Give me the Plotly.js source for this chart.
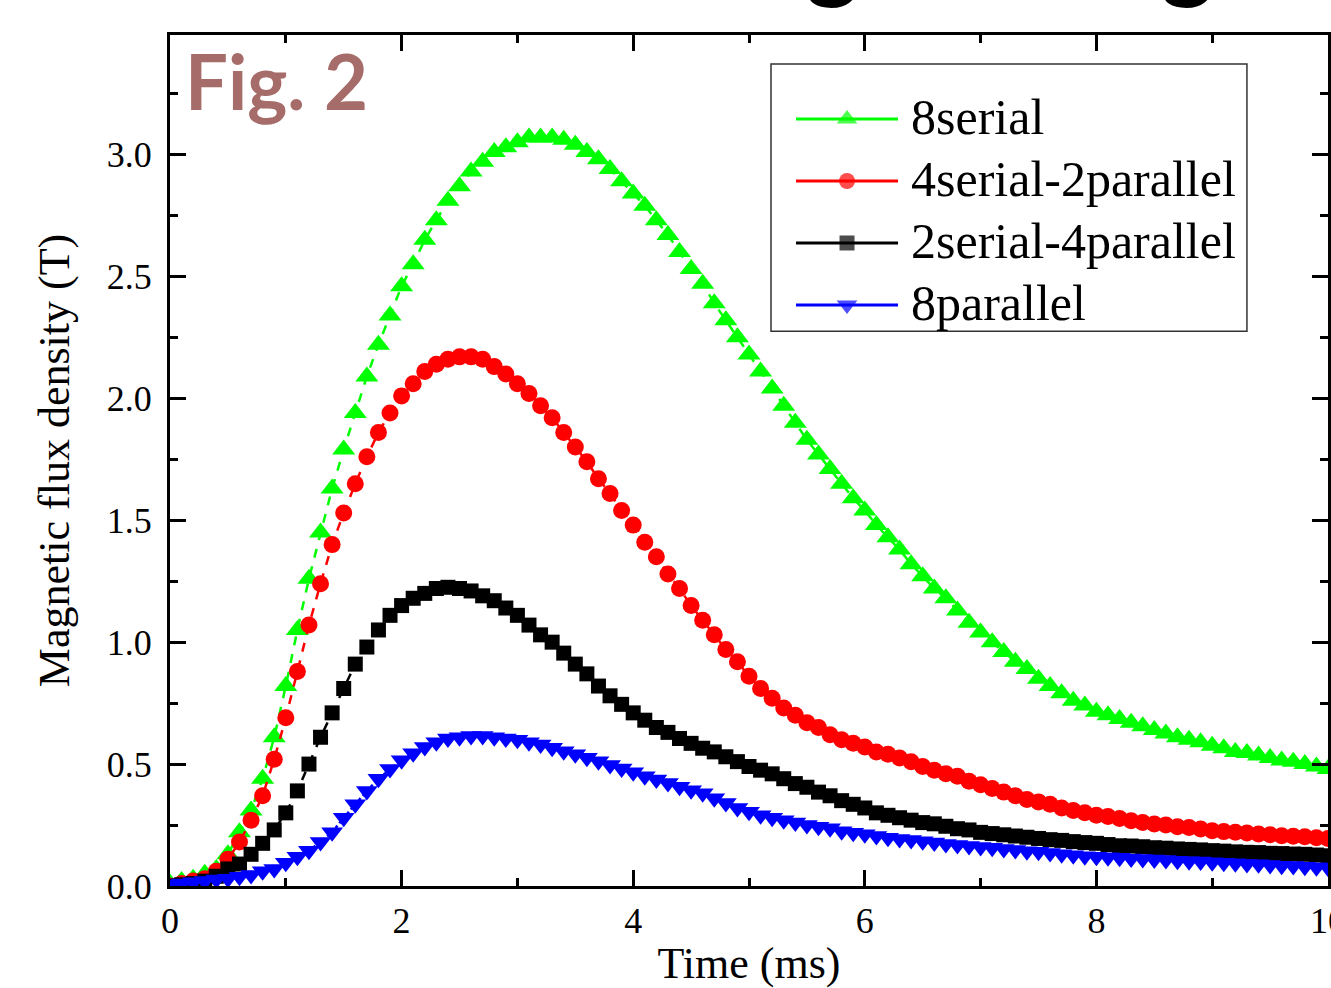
<!DOCTYPE html>
<html>
<head>
<meta charset="utf-8">
<script src="https://cdn.plot.ly/plotly-3.0.1.min.js"></script>
<style>
  html, body { margin: 0; padding: 0; background: #ffffff; }
  #chart { width: 1331px; height: 988px; }
</style>
</head>
<body>
<div id="chart"></div>
<script>
// Time axis (ms)
const time = [
  0.0, 0.1, 0.2, 0.3, 0.4, 0.5, 0.6, 0.7, 0.8, 0.9,
  1.0, 1.1, 1.2, 1.3, 1.4, 1.5, 1.6, 1.7, 1.8, 1.9,
  2.0, 2.1, 2.2, 2.3, 2.4, 2.5, 2.6, 2.7, 2.8, 2.9,
  3.0, 3.1, 3.2, 3.3, 3.4, 3.5, 3.6, 3.7, 3.8, 3.9,
  4.0, 4.1, 4.2, 4.3, 4.4, 4.5, 4.6, 4.7, 4.8, 4.9,
  5.0, 5.1, 5.2, 5.3, 5.4, 5.5, 5.6, 5.7, 5.8, 5.9,
  6.0, 6.1, 6.2, 6.3, 6.4, 6.5, 6.6, 6.7, 6.8, 6.9,
  7.0, 7.1, 7.2, 7.3, 7.4, 7.5, 7.6, 7.7, 7.8, 7.9,
  8.0, 8.1, 8.2, 8.3, 8.4, 8.5, 8.6, 8.7, 8.8, 8.9,
  9.0, 9.1, 9.2, 9.3, 9.4, 9.5, 9.6, 9.7, 9.8, 9.9,
  10.0
];

// Magnetic flux density (T) for each coil connection
const serial8 = [
  0.01, 0.02, 0.03, 0.05, 0.07, 0.13, 0.22, 0.31, 0.44, 0.61,
  0.82, 1.05, 1.26, 1.45, 1.63, 1.79, 1.94, 2.09, 2.22, 2.34,
  2.46, 2.55, 2.65, 2.73, 2.81, 2.87, 2.93, 2.97, 3.01, 3.03,
  3.05, 3.07, 3.07, 3.07, 3.06, 3.04, 3.01, 2.98, 2.94, 2.89,
  2.84, 2.79, 2.73, 2.67, 2.60, 2.53, 2.47, 2.39, 2.32, 2.25,
  2.18, 2.11, 2.04, 1.97, 1.90, 1.83, 1.77, 1.71, 1.65, 1.59,
  1.54, 1.48, 1.43, 1.38, 1.32, 1.27, 1.22, 1.18, 1.13, 1.08,
  1.04, 1.00, 0.96, 0.92, 0.89, 0.85, 0.82, 0.79, 0.76, 0.74,
  0.715, 0.70, 0.685, 0.67, 0.655, 0.64, 0.625, 0.61, 0.60, 0.59,
  0.575, 0.565, 0.55, 0.545, 0.535, 0.525, 0.515, 0.51, 0.50, 0.49,
  0.48
];
const serial4parallel2 = [
  0.00, 0.01, 0.02, 0.03, 0.06, 0.11, 0.18, 0.27, 0.37, 0.52,
  0.69, 0.88, 1.07, 1.24, 1.40, 1.53, 1.65, 1.76, 1.86, 1.94,
  2.01, 2.06, 2.11, 2.14, 2.16, 2.17, 2.17, 2.16, 2.13, 2.10,
  2.06, 2.02, 1.97, 1.92, 1.86, 1.80, 1.74, 1.67, 1.61, 1.54,
  1.48, 1.41, 1.35, 1.28, 1.22, 1.15, 1.09, 1.03, 0.97, 0.92,
  0.86, 0.81, 0.77, 0.73, 0.70, 0.67, 0.65, 0.62, 0.60, 0.585,
  0.57, 0.55, 0.54, 0.525, 0.51, 0.49, 0.475, 0.46, 0.45, 0.43,
  0.415, 0.40, 0.385, 0.37, 0.355, 0.345, 0.335, 0.32, 0.31, 0.30,
  0.29, 0.285, 0.277, 0.268, 0.26, 0.254, 0.25, 0.243, 0.24, 0.234,
  0.227, 0.223, 0.22, 0.217, 0.213, 0.21, 0.206, 0.204, 0.202, 0.198,
  0.195
];
const serial2parallel4 = [
  0.00, 0.005, 0.01, 0.02, 0.04, 0.07, 0.09, 0.13, 0.175, 0.23,
  0.30, 0.39, 0.50, 0.61, 0.71, 0.81, 0.91, 0.98, 1.05, 1.11,
  1.15, 1.18, 1.20, 1.22, 1.225, 1.22, 1.21, 1.19, 1.17, 1.14,
  1.11, 1.07, 1.03, 1.00, 0.955, 0.91, 0.87, 0.82, 0.78, 0.745,
  0.71, 0.68, 0.65, 0.63, 0.605, 0.585, 0.565, 0.55, 0.53, 0.51,
  0.49, 0.475, 0.46, 0.44, 0.42, 0.405, 0.385, 0.37, 0.35, 0.335,
  0.32, 0.30, 0.29, 0.28, 0.27, 0.26, 0.255, 0.245, 0.235, 0.23,
  0.22, 0.215, 0.21, 0.205, 0.20, 0.195, 0.19, 0.187, 0.182, 0.178,
  0.175, 0.17, 0.165, 0.164, 0.161, 0.157, 0.155, 0.152, 0.15, 0.148,
  0.145, 0.143, 0.14, 0.138, 0.137, 0.134, 0.133, 0.131, 0.13, 0.127,
  0.124
];
const parallel8 = [
  0.005, 0.01, 0.015, 0.02, 0.027, 0.03, 0.038, 0.045, 0.06, 0.07,
  0.095, 0.12, 0.145, 0.18, 0.22, 0.28, 0.335, 0.39, 0.44, 0.48,
  0.516, 0.544, 0.57, 0.59, 0.605, 0.61, 0.615, 0.615, 0.61, 0.605,
  0.60, 0.59, 0.58, 0.567, 0.553, 0.54, 0.526, 0.512, 0.496, 0.482,
  0.466, 0.45, 0.437, 0.422, 0.407, 0.393, 0.38, 0.36, 0.34, 0.32,
  0.305, 0.29, 0.28, 0.27, 0.26, 0.25, 0.243, 0.237, 0.225, 0.218,
  0.212, 0.205, 0.198, 0.193, 0.189, 0.184, 0.178, 0.172, 0.168, 0.164,
  0.16, 0.157, 0.152, 0.148, 0.143, 0.14, 0.135, 0.13, 0.126, 0.122,
  0.12, 0.118, 0.116, 0.113, 0.111, 0.109, 0.107, 0.104, 0.102, 0.10,
  0.097, 0.095, 0.093, 0.09, 0.089, 0.086, 0.083, 0.082, 0.079, 0.077,
  0.075
];

const seriesNames = ['8serial', '4serial-2parallel', '2serial-4parallel', '8parallel'];
const seriesValues = [serial8, serial4parallel2, serial2parallel4, parallel8];
const seriesColors = ['#00ff00', '#ff0000', '#000000', '#0000ff'];
const seriesSymbols = ['triangle-up', 'circle', 'square', 'triangle-down'];
const markerSizes = [20, 17, 15, 19];
const keyMarkerSizes = [18, 16, 15, 18];
const lineDashes = ['dash', 'dash', 'dash', 'dot'];

const serifFont = 'Liberation Serif, Times New Roman, serif';

const traces = seriesValues.map((vals, i) => ({
  type: 'scatter',
  mode: 'lines+markers',
  x: time,
  y: vals,
  name: seriesNames[i],
  showlegend: false,
  line: { color: seriesColors[i], width: 2.5, dash: lineDashes[i] },
  marker: { symbol: seriesSymbols[i], size: markerSizes[i], color: seriesColors[i], line: { width: 0 } }
}));

// Hand-built legend: long key lines with a marker in the middle
const legendBox = { x0: 0.519, x1: 0.930, y0: 0.652, y1: 0.966 };
const legendRows = [0.9013, 0.8284, 0.7556, 0.6827];
const keyLine = { x0: 0.5406, x1: 0.6287 };
const keyMid = (keyLine.x0 + keyLine.x1) / 2;
const labelX = 0.6385;

traces.push({
  type: 'scatter',
  mode: 'markers',
  xaxis: 'x2',
  yaxis: 'y2',
  x: legendRows.map(() => keyMid),
  y: legendRows,
  showlegend: false,
  hoverinfo: 'skip',
  cliponaxis: false,
  marker: { symbol: seriesSymbols, size: keyMarkerSizes, color: seriesColors, line: { width: 0 } }
});

const shapes = [{
  type: 'rect', xref: 'paper', yref: 'paper',
  x0: legendBox.x0, x1: legendBox.x1, y0: legendBox.y0, y1: legendBox.y1,
  line: { color: '#333333', width: 1.5 }, fillcolor: 'rgba(0,0,0,0)'
}];
legendRows.forEach((y, i) => {
  shapes.push({
    type: 'line', xref: 'paper', yref: 'paper',
    x0: keyLine.x0, x1: keyLine.x1, y0: y, y1: y,
    line: { color: seriesColors[i], width: 3 }
  });
});

const annotations = legendRows.map((y, i) => ({
  xref: 'paper', yref: 'paper', x: labelX, y: y + 0.002,
  xanchor: 'left', yanchor: 'middle', showarrow: false,
  text: seriesNames[i],
  font: { family: serifFont, size: 50, color: '#000000' }
}));

annotations.push({
  xref: 'paper', yref: 'paper', x: 0.011, y: 0.947,
  xanchor: 'left', yanchor: 'middle', showarrow: false,
  text: '<b>Fig. 2</b>',
  font: { family: 'Lato, Open Sans, sans-serif', size: 76, color: '#a66c6a' }
});

// Lower edge of the large heading letters that sit above the frame
[0.5717, 0.8791].forEach(x => {
  annotations.push({
    xref: 'paper', yref: 'paper', x: x, y: 1.026,
    xanchor: 'center', yanchor: 'bottom', showarrow: false,
    text: '<b>g</b>',
    font: { family: 'Lato, Open Sans, sans-serif', size: 100, color: '#000000' }
  });
});

const axisCommon = {
  showline: true, linewidth: 3, linecolor: '#000000', mirror: 'ticks',
  ticks: 'inside', ticklen: 16, tickwidth: 3, tickcolor: '#000000',
  showgrid: false, zeroline: false,
  tickfont: { family: serifFont, size: 36, color: '#000000' }
};

const layout = {
  width: 1331, height: 988,
  margin: { l: 170, r: 3, t: 35, b: 102, pad: 0 },
  paper_bgcolor: '#ffffff', plot_bgcolor: '#ffffff',
  showlegend: false,
  xaxis: Object.assign({}, axisCommon, {
    range: [0, 10], tick0: 0, dtick: 2,
    ticklabelstandoff: 1, ticklabeloverflow: 'allow',
    minor: { dtick: 1, ticks: 'inside', ticklen: 8, tickwidth: 3, tickcolor: '#000000', showgrid: false },
    title: { text: 'Time (ms)', font: { family: serifFont, size: 44, color: '#000000' }, standoff: 22 }
  }),
  yaxis: Object.assign({}, axisCommon, {
    range: [0, 3.49], tick0: 0, dtick: 0.5, tickformat: '.1f',
    ticklabelstandoff: 8,
    minor: { dtick: 0.25, ticks: 'inside', ticklen: 8, tickwidth: 3, tickcolor: '#000000', showgrid: false },
    title: { text: 'Magnetic flux density (T)', font: { family: serifFont, size: 44, color: '#000000' }, standoff: 24 }
  }),
  xaxis2: { overlaying: 'x', anchor: 'y2', range: [0, 1], visible: false, fixedrange: true },
  yaxis2: { overlaying: 'y', anchor: 'x2', range: [0, 1], visible: false, fixedrange: true },
  shapes: shapes,
  annotations: annotations
};

Plotly.newPlot('chart', traces, layout, { displayModeBar: false, staticPlot: true });
</script>
</body>
</html>
